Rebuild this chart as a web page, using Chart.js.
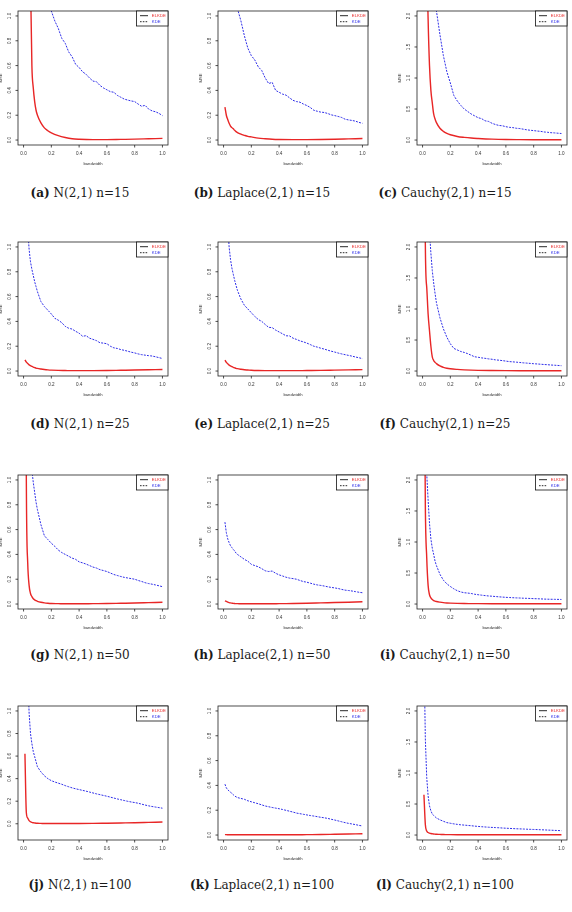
<!DOCTYPE html>
<html>
<head>
<meta charset="utf-8">
<script src="https://cdn.jsdelivr.net/npm/chart.js@4.4.1/dist/chart.umd.min.js"></script>
<style>
  html, body { margin: 0; padding: 0; background: #fff; }
  #wrap { position: relative; width: 572px; height: 912px; overflow: hidden; background: #fff; }
  canvas { position: absolute; }
  .cap { position: absolute; transform: translate(-50%, -50%); white-space: nowrap;
         font-family: "DejaVu Serif", "Liberation Serif", serif; font-size: 12px; color: #1a1a1a; }
  .cap b { font-weight: bold; }
</style>
</head>
<body>
<div id="wrap"></div>
<script>
// ---------------- DATA ----------------
const bwKde = [0.01,0.02,0.03,0.04,0.05,0.06,0.07,0.08,0.09,0.10,
  0.125,0.15,0.175,0.2,0.225,0.25,0.275,0.3,0.325,0.35,0.375,0.4,0.425,0.45,0.475,0.5,
  0.525,0.55,0.575,0.6,0.625,0.65,0.675,0.7,0.725,0.75,0.775,0.8,0.825,0.85,0.875,0.9,0.925,0.95,0.975,1.0];
const bwElkde = [0.01,0.02,0.03,0.04,0.05,0.06,0.07,0.08,0.09,0.10,0.125,0.15,0.175,0.2,0.25,0.3,0.35,0.4,0.5,0.6,0.7,0.8,0.9,1.0];

const elkdeA = [20,8,4,2.2,1.3,0.6,0.42,0.31,0.24,0.2,0.138,0.098,0.075,0.058,0.035,0.02,0.01,0.006,0.003,0.003,0.005,0.007,0.01,0.013];
const elkdeB = [0.265,0.2,0.165,0.135,0.113,0.1,0.09,0.078,0.068,0.06,0.047,0.038,0.03,0.025,0.015,0.01,0.006,0.004,0.003,0.003,0.004,0.006,0.009,0.012];
const elkdeC = [15,6,3.2,1.95,1.2,0.8,0.6,0.42,0.34,0.28,0.19,0.14,0.108,0.085,0.058,0.043,0.032,0.025,0.014,0.008,0.006,0.005,0.005,0.005];
const elkdeD = [0.09,0.072,0.06,0.05,0.043,0.037,0.032,0.028,0.024,0.021,0.016,0.012,0.009,0.007,0.005,0.004,0.003,0.003,0.003,0.004,0.006,0.008,0.01,0.012];
const elkdeE = [0.088,0.07,0.058,0.048,0.041,0.035,0.03,0.026,0.022,0.019,0.014,0.01,0.008,0.006,0.004,0.003,0.003,0.003,0.003,0.004,0.005,0.007,0.009,0.011];
const elkdeF = [8,2.05,1.35,0.92,0.65,0.4,0.23,0.17,0.14,0.12,0.082,0.06,0.045,0.036,0.026,0.019,0.014,0.011,0.008,0.006,0.005,0.005,0.005,0.005];
const elkdeG = [5,1.0,0.33,0.15,0.085,0.06,0.043,0.034,0.027,0.022,0.014,0.009,0.006,0.004,0.003,0.002,0.002,0.002,0.003,0.004,0.006,0.008,0.011,0.014];
const elkdeH = [0.026,0.021,0.016,0.012,0.009,0.007,0.005,0.004,0.003,0.003,0.002,0.002,0.002,0.002,0.002,0.002,0.002,0.003,0.004,0.006,0.009,0.012,0.015,0.018];
const elkdeI = [5,1.6,0.75,0.3,0.15,0.1,0.072,0.056,0.046,0.04,0.03,0.022,0.017,0.014,0.01,0.008,0.007,0.006,0.005,0.005,0.005,0.005,0.005,0.005];
const elkdeJ = [0.62,0.1,0.05,0.028,0.018,0.012,0.009,0.007,0.005,0.004,0.003,0.002,0.002,0.002,0.002,0.002,0.002,0.002,0.003,0.005,0.007,0.009,0.012,0.015];
const elkdeK = [0.003,0.003,0.002,0.002,0.002,0.002,0.002,0.002,0.002,0.002,0.002,0.002,0.002,0.002,0.002,0.002,0.002,0.002,0.002,0.003,0.004,0.006,0.008,0.01];
const elkdeL = [0.65,0.17,0.065,0.04,0.03,0.024,0.02,0.016,0.014,0.012,0.01,0.008,0.007,0.006,0.005,0.005,0.005,0.005,0.005,0.005,0.005,0.005,0.005,0.005];

const kdeA = [9,6,4.5,3.6,3.0,2.6,2.3,2.0,1.8,1.65,
  1.4,1.25,1.12,1.04,0.96,0.9,0.82,0.78,0.71,0.67,0.61,0.585,0.55,0.53,0.5,0.475,0.47,0.44,0.42,0.405,0.39,0.385,0.36,0.345,0.33,0.322,0.315,0.31,0.29,0.272,0.28,0.25,0.235,0.228,0.215,0.197];
const kdeB = [4,3.2,2.6,2.2,1.9,1.65,1.45,1.3,1.16,1.06,
  0.96,0.84,0.74,0.68,0.645,0.59,0.56,0.5,0.455,0.465,0.4,0.385,0.37,0.362,0.34,0.32,0.31,0.305,0.29,0.278,0.262,0.24,0.232,0.225,0.222,0.214,0.203,0.197,0.19,0.182,0.168,0.162,0.158,0.152,0.142,0.135];
const kdeC = [30,15,10,7,5.2,4.2,3.4,2.8,2.4,2.08,
  1.7,1.36,1.1,0.92,0.72,0.63,0.56,0.5,0.46,0.42,0.39,0.36,0.345,0.31,0.3,0.27,0.25,0.235,0.23,0.215,0.205,0.2,0.19,0.185,0.175,0.165,0.158,0.152,0.145,0.14,0.13,0.125,0.118,0.115,0.11,0.105];
const kdeD = [2.0,1.5,1.15,0.98,0.88,0.82,0.77,0.72,0.68,0.64,
  0.56,0.52,0.49,0.46,0.425,0.41,0.39,0.36,0.345,0.338,0.32,0.305,0.28,0.285,0.265,0.255,0.245,0.228,0.225,0.22,0.2,0.187,0.182,0.173,0.167,0.16,0.152,0.146,0.138,0.132,0.128,0.124,0.121,0.115,0.108,0.101];
const kdeE = [2.2,1.6,1.2,1.0,0.9,0.83,0.78,0.73,0.69,0.65,
  0.58,0.53,0.5,0.47,0.44,0.415,0.4,0.375,0.352,0.35,0.33,0.315,0.3,0.284,0.283,0.265,0.255,0.243,0.235,0.225,0.213,0.2,0.193,0.184,0.177,0.168,0.16,0.153,0.145,0.138,0.132,0.126,0.12,0.113,0.107,0.1];
const kdeF = [20,8,4.5,3,2.25,1.9,1.62,1.42,1.25,1.1,
  0.86,0.68,0.545,0.44,0.365,0.34,0.315,0.3,0.28,0.255,0.23,0.222,0.212,0.205,0.196,0.19,0.18,0.175,0.168,0.16,0.152,0.148,0.143,0.138,0.132,0.128,0.123,0.118,0.114,0.11,0.105,0.102,0.097,0.094,0.09,0.086];
const kdeG = [6,3.2,2.2,1.65,1.3,1.08,0.98,0.9,0.82,0.76,
  0.64,0.55,0.52,0.49,0.465,0.435,0.415,0.4,0.385,0.37,0.36,0.34,0.332,0.322,0.31,0.298,0.29,0.277,0.27,0.262,0.25,0.238,0.23,0.222,0.215,0.21,0.205,0.2,0.19,0.182,0.172,0.165,0.16,0.154,0.147,0.14];
const kdeH = [0.66,0.575,0.525,0.495,0.47,0.455,0.44,0.428,0.41,0.4,
  0.38,0.36,0.345,0.32,0.31,0.3,0.285,0.268,0.262,0.266,0.248,0.235,0.226,0.216,0.209,0.205,0.2,0.19,0.181,0.176,0.168,0.16,0.154,0.15,0.145,0.139,0.134,0.13,0.125,0.118,0.112,0.109,0.105,0.1,0.095,0.091];
const kdeI = [10,4.5,2.1,1.68,1.3,1.05,0.9,0.8,0.69,0.62,
  0.48,0.385,0.325,0.283,0.245,0.215,0.195,0.182,0.177,0.17,0.158,0.15,0.143,0.136,0.13,0.126,0.121,0.116,0.112,0.108,0.105,0.102,0.099,0.097,0.094,0.092,0.09,0.087,0.085,0.083,0.08,0.078,0.077,0.076,0.075,0.074];
const kdeJ = [4,2.2,1.35,0.98,0.8,0.71,0.64,0.595,0.55,0.505,
  0.46,0.425,0.4,0.382,0.37,0.36,0.35,0.338,0.328,0.318,0.31,0.303,0.296,0.289,0.281,0.273,0.265,0.258,0.251,0.244,0.236,0.228,0.22,0.213,0.206,0.199,0.193,0.188,0.182,0.174,0.166,0.159,0.153,0.148,0.143,0.138];
const kdeK = [0.41,0.38,0.365,0.355,0.345,0.336,0.325,0.315,0.308,0.302,
  0.295,0.288,0.276,0.268,0.26,0.252,0.243,0.234,0.228,0.222,0.217,0.212,0.206,0.199,0.192,0.185,0.177,0.172,0.167,0.162,0.157,0.153,0.148,0.143,0.139,0.134,0.127,0.121,0.114,0.107,0.1,0.094,0.089,0.084,0.078,0.073];
const kdeL = [3,1.55,0.93,0.63,0.47,0.39,0.34,0.315,0.295,0.275,
  0.245,0.222,0.2,0.19,0.18,0.172,0.165,0.16,0.155,0.15,0.144,0.139,0.134,0.13,0.126,0.123,0.12,0.117,0.113,0.11,0.107,0.104,0.101,0.099,0.097,0.094,0.092,0.09,0.088,0.085,0.083,0.08,0.078,0.075,0.073,0.07];

const xTicks = [0, 0.2, 0.4, 0.6, 0.8, 1.0];
const yTicksUnit = [0, 0.2, 0.4, 0.6, 0.8, 1.0];
const yTicksCauchy = [0, 0.5, 1.0, 1.5, 2.0];
const yLimLow  = [0,0,0, 0,0,0, 0,0,0, -0.1,0,0];
const yLimHigh = [1,1,2, 1,1,2, 1,1,2, 1,1,2];
const panelLetters = ['a','b','c','d','e','f','g','h','i','j','k','l'];
const distNames = ['N(2,1)', 'Laplace(2,1)', 'Cauchy(2,1)'];
const sampleSizes = [15, 25, 50, 100];
const legendLabels = ['ELKDE', 'KDE'];
const xTitle = 'bandwidth';
const yTitle = 'MSE';

const elkdeSeries = [elkdeA,elkdeB,elkdeC,elkdeD,elkdeE,elkdeF,elkdeG,elkdeH,elkdeI,elkdeJ,elkdeK,elkdeL];
const kdeSeries = [kdeA,kdeB,kdeC,kdeD,kdeE,kdeF,kdeG,kdeH,kdeI,kdeJ,kdeK,kdeL];

// ---------------- LAYOUT ----------------
const colOrigin = [0, 190, 380];
const colWidth = [190, 190, 192];
const boxLeftOff = [18, 28, 37];
const rowTop = [11, 242, 475, 706];
const boxW = 150, boxH = 134, topPad = 11, canvasH = 175;
const captionX = [80, 262, 445];
const captionY = [193, 424, 655, 885];
const RED = 'rgb(232,38,38)';
const BLUE = 'rgb(45,45,232)';
const SANS = '"Liberation Sans", Arial, sans-serif';

const rAxes = {
  id: 'rAxes',
  afterDraw(chart, args, o) {
    const ctx = chart.ctx, a = chart.chartArea, x = chart.scales.x, y = chart.scales.y;
    ctx.save();
    const seg = (x1, y1, x2, y2) => { ctx.beginPath(); ctx.moveTo(x1, y1); ctx.lineTo(x2, y2); ctx.stroke(); };
    ctx.strokeStyle = '#222'; ctx.lineWidth = 0.8;
    ctx.strokeRect(a.left, a.top, a.right - a.left, a.bottom - a.top);
    ctx.fillStyle = '#333';
    ctx.font = '4.6px ' + SANS;
    ctx.textAlign = 'center'; ctx.textBaseline = 'middle';
    o.xTicks.forEach(v => {
      const px = x.getPixelForValue(v);
      seg(px, a.bottom, px, a.bottom + 2.5);
      ctx.fillText(v.toFixed(1), px, a.bottom + 8.5);
    });
    o.yTicks.forEach(v => {
      const py = y.getPixelForValue(v);
      seg(a.left - 2.5, py, a.left, py);
      ctx.save(); ctx.translate(a.left - 8, py); ctx.rotate(-Math.PI / 2);
      ctx.fillText(v.toFixed(1), 0, 0); ctx.restore();
    });
    ctx.font = '4.2px ' + SANS;
    ctx.fillText(o.xTitle, (a.left + a.right) / 2, a.bottom + 19);
    ctx.save(); ctx.translate(a.left - 17, (a.top + a.bottom) / 2); ctx.rotate(-Math.PI / 2);
    ctx.fillText(o.yTitle, 0, 0); ctx.restore();
    // legend
    const lw = 31.5, lh = 15, lx = a.right - lw, ly = a.top;
    ctx.fillStyle = '#fff'; ctx.fillRect(lx, ly, lw, lh);
    ctx.strokeStyle = '#111'; ctx.lineWidth = 0.8; ctx.strokeRect(lx, ly, lw, lh);
    ctx.lineWidth = 0.9;
    seg(lx + 3.5, ly + 4.7, lx + 11.5, ly + 4.7);
    ctx.setLineDash([1.6, 1.2]);
    seg(lx + 3.5, ly + 10.7, lx + 11.5, ly + 10.7);
    ctx.setLineDash([]);
    ctx.font = '4.3px ' + SANS; ctx.textAlign = 'left';
    ctx.fillStyle = RED; ctx.fillText(o.labels[0], lx + 15.3, ly + 4.9);
    ctx.fillStyle = BLUE; ctx.fillText(o.labels[1], lx + 15.3, ly + 10.9);
    ctx.restore();
  }
};

const wrap = document.getElementById('wrap');
for (let i = 0; i < 12; i++) {
  const r = Math.floor(i / 3), c = i % 3;
  const cv = document.createElement('canvas');
  cv.width = colWidth[c]; cv.height = canvasH;
  cv.style.left = colOrigin[c] + 'px';
  cv.style.top = (rowTop[r] - topPad) + 'px';
  cv.style.width = colWidth[c] + 'px'; cv.style.height = canvasH + 'px';
  wrap.appendChild(cv);

  const lo = yLimLow[i], hi = yLimHigh[i], ext = (hi - lo) * 0.04;
  const yTicks = (c === 2) ? yTicksCauchy : yTicksUnit;

  new Chart(cv.getContext('2d'), {
    type: 'line',
    data: {
      datasets: [
        { label: legendLabels[0], data: bwElkde.map((b, k) => ({ x: b, y: elkdeSeries[i][k] })),
          borderColor: RED, borderWidth: 1.4, pointRadius: 0, cubicInterpolationMode: 'monotone',
          fill: false, clip: 0, order: 1 },
        { label: legendLabels[1], data: bwKde.map((b, k) => ({ x: b, y: kdeSeries[i][k] })),
          borderColor: BLUE, borderWidth: 1.0, borderDash: [2, 1.2], pointRadius: 0, tension: 0,
          fill: false, clip: 0, order: 2 }
      ]
    },
    options: {
      responsive: false, animation: false, devicePixelRatio: 1, events: [],
      layout: { padding: { left: boxLeftOff[c], top: topPad,
                           right: colWidth[c] - boxLeftOff[c] - boxW, bottom: canvasH - topPad - boxH } },
      plugins: { legend: { display: false }, tooltip: { enabled: false }, title: { display: false },
                 rAxes: { xTicks: xTicks, yTicks: yTicks, xTitle: xTitle, yTitle: yTitle, labels: legendLabels } },
      scales: {
        x: { type: 'linear', min: -0.04, max: 1.04, display: false },
        y: { type: 'linear', min: lo - ext, max: hi + ext, display: false }
      }
    },
    plugins: [rAxes]
  });

  const cap = document.createElement('div');
  cap.className = 'cap';
  cap.style.left = captionX[c] + 'px';
  cap.style.top = captionY[r] + 'px';
  cap.innerHTML = '<b>(' + panelLetters[i] + ')</b> ' + distNames[c] + ' n=' + sampleSizes[r];
  wrap.appendChild(cap);
}
</script>
</body>
</html>
